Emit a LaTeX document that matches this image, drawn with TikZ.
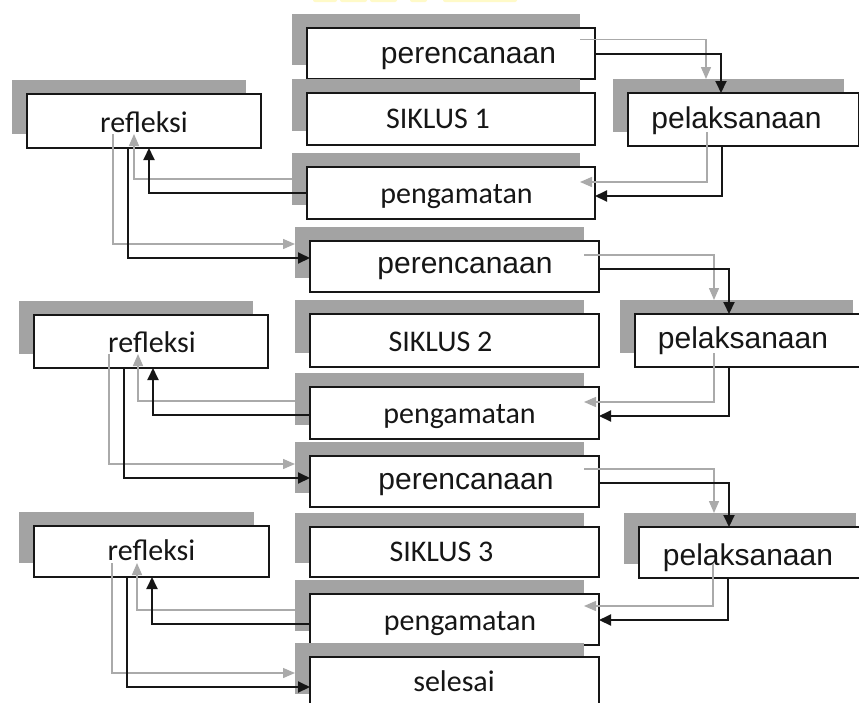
\documentclass[tikz,border=0pt]{standalone}
\usepackage{fontspec}
\setmainfont{Carlito}
\newfontfamily\arialf{Liberation Sans}
\usetikzlibrary{arrows.meta}
\definecolor{shd}{RGB}{163,163,163}
\definecolor{gln}{RGB}{170,170,170}
\definecolor{ink}{RGB}{22,22,22}
\definecolor{ylw}{RGB}{255,250,200}
\newcommand\mkbox[5]{%
  \pgfmathsetmacro\mybw{#4-#2}\pgfmathsetmacro\mybh{#5-#3}%
  \pgfmathsetmacro\mycx{(#2+#4)/2}\pgfmathsetmacro\mycy{(#3+#5)/2}%
  \node[shadowbox,minimum width=\mybw pt,minimum height=\mybh pt] (#1s) at (\mycx-15,\mycy-14) {};
  \node[whitebox,minimum width=\mybw pt,minimum height=\mybh pt] (#1) at (\mycx,\mycy) {};
}
\begin{document}
\begin{tikzpicture}[x=1pt,y=-1pt,
  shadowbox/.style={fill=shd,draw=none,inner sep=0pt,outer sep=0pt},
  whitebox/.style={fill=white,draw=ink,line width=1.3pt,inner sep=0pt,outer sep=0pt},
  lbl/.style={anchor=base,text=ink,font=\fontsize{30}{36}\selectfont,inner sep=0pt},
  lblsans/.style={anchor=base,text=ink,font=\arialf\fontsize{30}{36}\selectfont,inner sep=0pt},
  blk/.style={draw=ink,line width=2pt,-{Triangle[length=12pt,width=11pt]}},
  gry/.style={draw=gln,line width=1.4pt,-{Triangle[length=12pt,width=10pt]}}]
\useasboundingbox (0,0) rectangle (859,702);
\fill[white] (0,0) rectangle (859,702);
\clip (0,0) rectangle (859,702);
% faint cut-off title at the top
\begin{scope}[rounded corners=2pt]
\fill[ylw] (313,-4) rectangle (337,2);
\fill[ylw] (340,-4) rectangle (367,2);
\fill[ylw] (370,-4) rectangle (397,2);
\fill[ylw] (410,-4) rectangle (427,2);
\fill[ylw] (443,-4) rectangle (517,2);
\end{scope}
% boxes with shadows
\mkbox{P1}{307}{28}{595}{79}
\mkbox{S1}{307}{93}{595}{145}
\mkbox{G1}{307}{167}{595}{219}
\mkbox{L1}{628}{93}{859}{146}
\mkbox{R1}{27}{94}{261}{148}
\mkbox{P2}{310}{241}{599}{292}
\mkbox{S2}{310}{314}{599}{367}
\mkbox{G2}{310}{387}{599}{439}
\mkbox{L2}{635}{314}{868}{367}
\mkbox{R2}{34}{315}{268}{368}
\mkbox{P3}{310}{456}{599}{507}
\mkbox{S3}{310}{527}{599}{577}
\mkbox{G3}{310}{594}{599}{645}
\mkbox{E}{310}{657}{599}{708}
\mkbox{L3}{639}{527}{871}{578}
\mkbox{R3}{34}{526}{269}{577}
% labels
\node[lblsans] (tP1) at (468.5,63) {perencanaan};
\node[lbl] (tS1) at (438,128) {SIKLUS 1};
\node[lbl] (tG1) at (456.5,203) {pengamatan};
\node[lblsans] (tL1) at (736.5,128) {pelaksanaan};
\node[lbl] (tR1) at (144,132) {refleksi};
\node[lblsans] (tP2) at (465,273) {perencanaan};
\node[lbl] (tS2) at (440.5,351) {SIKLUS 2};
\node[lbl] (tG2) at (459.5,423) {pengamatan};
\node[lblsans] (tL2) at (743,348) {pelaksanaan};
\node[lbl] (tR2) at (152,352) {refleksi};
\node[lblsans] (tP3) at (466,489) {perencanaan};
\node[lbl] (tS3) at (441.5,561) {SIKLUS 3};
\node[lbl] (tG3) at (460,630) {pengamatan};
\node[lbl] (tE) at (454,691) {selesai};
\node[lblsans] (tL3) at (748,565) {pelaksanaan};
\node[lbl] (tR3) at (151.5,560) {refleksi};
% gray (shadow) connectors
\draw[gry] (P1s.east) -| ([xshift=-22.5pt]L1s.north);
\draw[gry] ([xshift=-21.5pt]L1s.south) |- ([yshift=-3pt]G1s.east);
\draw[gry] (G1s.west) -| ([xshift=5pt]R1s.south);
\draw[gry] ([xshift=-16pt]R1s.south) |- ([yshift=8.5pt]P2s.west);
\draw[gry] ([yshift=-2.5pt]P2s.east) -| ([xshift=-22.5pt]L2s.north);
\draw[gry] ([xshift=-22.5pt]L2s.south) |- ([yshift=-3pt]G2s.east);
\draw[gry] ([yshift=-2pt]G2s.west) -| ([xshift=2pt]R2s.south);
\draw[gry] ([xshift=-27pt]R2s.south) |- ([yshift=3.5pt]P3s.west);
\draw[gry] ([yshift=-1.5pt]P3s.east) -| ([xshift=-26pt]L3s.north);
\draw[gry] ([xshift=-27pt]L3s.south) |- ([yshift=-0.5pt]G3s.east);
\draw[gry] ([yshift=-4.5pt]G3s.west) -| ([xshift=0.5pt]R3s.south);
\draw[gry] ([xshift=-24.5pt]R3s.south) |- ([yshift=-4.5pt]Es.west);
% black connectors
\draw[blk] (P1.east) -| ([xshift=-22.5pt]L1.north);
\draw[blk] ([xshift=-21.5pt]L1.south) |- ([yshift=-3pt]G1.east);
\draw[blk] (G1.west) -| ([xshift=5pt]R1.south);
\draw[blk] ([xshift=-16pt]R1.south) |- ([yshift=8.5pt]P2.west);
\draw[blk] ([yshift=-2.5pt]P2.east) -| ([xshift=-22.5pt]L2.north);
\draw[blk] ([xshift=-22.5pt]L2.south) |- ([yshift=-3pt]G2.east);
\draw[blk] ([yshift=-2pt]G2.west) -| ([xshift=2pt]R2.south);
\draw[blk] ([xshift=-27pt]R2.south) |- ([yshift=3.5pt]P3.west);
\draw[blk] ([yshift=-1.5pt]P3.east) -| ([xshift=-26pt]L3.north);
\draw[blk] ([xshift=-27pt]L3.south) |- ([yshift=-0.5pt]G3.east);
\draw[blk] ([yshift=-4.5pt]G3.west) -| ([xshift=0.5pt]R3.south);
\draw[blk] ([xshift=-24.5pt]R3.south) |- ([yshift=-4.5pt]E.west);
\end{tikzpicture}
\end{document}
